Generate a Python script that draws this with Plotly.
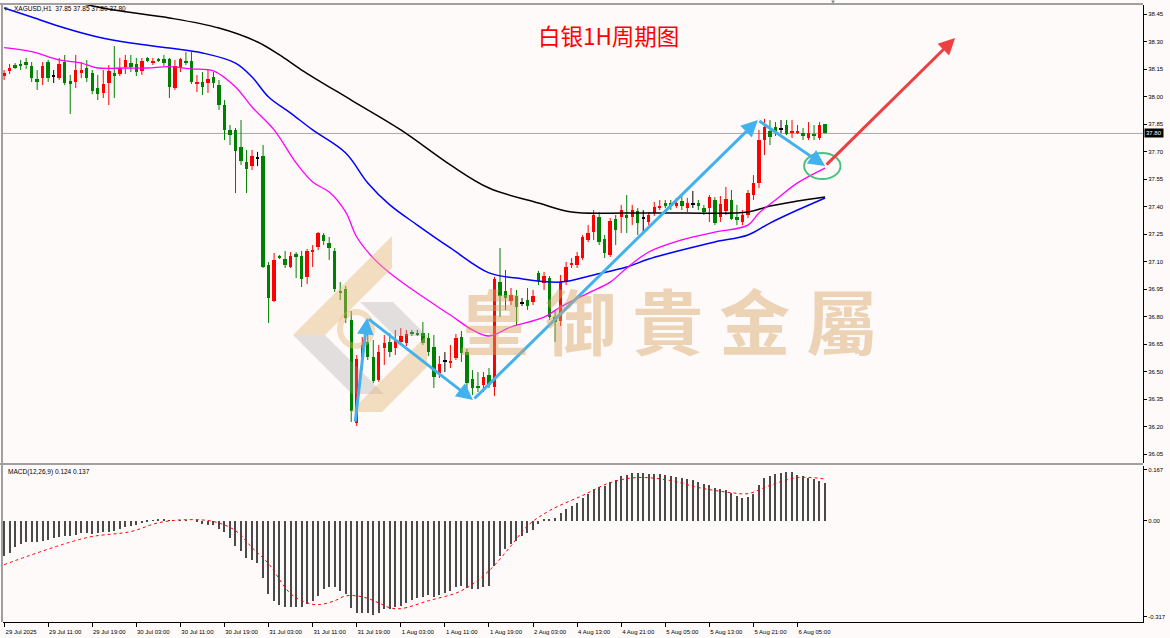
import plotly.graph_objects as go

# ---------------- data ----------------
bars = list(range(150))

opens = [38.113, 38.141, 38.173, 38.179, 38.190, 38.168, 38.097, 38.102, 38.190, 38.113,
         38.102, 38.190, 38.086, 38.081, 38.130, 38.157, 38.130, 38.048, 38.021, 38.075,
         38.130, 38.124, 38.162, 38.184, 38.179, 38.141, 38.212, 38.184, 38.206, 38.206,
         38.206, 38.048, 38.157, 38.195, 38.195, 38.075, 38.081, 38.075, 38.108, 38.064,
         37.955, 37.819, 37.819, 37.726, 37.644, 37.622, 37.666, 37.677, 37.082, 36.886,
         37.128, 37.115, 37.071, 37.142, 37.131, 37.017, 37.153, 37.180, 37.246, 37.202,
         37.159, 36.940, 36.951, 36.782, 36.220, 36.569, 36.662, 36.580, 36.455, 36.629,
         36.662, 36.629, 36.662, 36.657, 36.717, 36.711, 36.711, 36.684, 36.635, 36.493,
         36.558, 36.547, 36.575, 36.689, 36.607, 36.460, 36.422, 36.427, 36.482, 36.417,
         36.989, 36.940, 36.886, 36.913, 36.875, 36.891, 36.880, 37.039, 36.984, 37.011,
         36.798, 36.777, 36.989, 37.082, 37.082, 37.120, 37.219, 37.262, 37.344, 37.224,
         37.137, 37.333, 37.344, 37.355, 37.344, 37.377, 37.339, 37.317, 37.366, 37.393,
         37.420, 37.420, 37.404, 37.431, 37.393, 37.415, 37.420, 37.393, 37.393, 37.437,
         37.344, 37.377, 37.437, 37.344, 37.317, 37.355, 37.464, 37.530, 37.764, 37.813,
         37.835, 37.824, 37.846, 37.802, 37.808, 37.802, 37.775, 37.797, 37.775, 37.850]

highs = [38.146, 38.179, 38.184, 38.201, 38.212, 38.190, 38.146, 38.190, 38.201, 38.146,
         38.212, 38.228, 38.119, 38.228, 38.190, 38.201, 38.146, 38.119, 38.146, 38.173,
         38.277, 38.212, 38.228, 38.228, 38.212, 38.212, 38.217, 38.212, 38.212, 38.228,
         38.212, 38.201, 38.212, 38.244, 38.244, 38.119, 38.135, 38.146, 38.135, 38.092,
         37.982, 37.846, 37.830, 37.873, 37.710, 37.710, 37.699, 37.737, 37.099, 37.148,
         37.137, 37.159, 37.153, 37.153, 37.159, 37.170, 37.191, 37.262, 37.257, 37.235,
         37.175, 36.989, 36.968, 36.831, 36.591, 36.689, 36.771, 36.673, 36.646, 36.700,
         36.711, 36.728, 36.738, 36.728, 36.728, 36.728, 36.771, 36.711, 36.700, 36.586,
         36.607, 36.646, 36.706, 36.722, 36.624, 36.509, 36.498, 36.498, 36.520, 37.017,
         37.175, 37.055, 36.957, 36.946, 36.902, 36.957, 36.946, 37.050, 37.044, 37.022,
         36.837, 37.028, 37.099, 37.120, 37.153, 37.246, 37.300, 37.382, 37.371, 37.246,
         37.339, 37.355, 37.410, 37.464, 37.410, 37.393, 37.382, 37.371, 37.426, 37.437,
         37.437, 37.437, 37.448, 37.459, 37.448, 37.486, 37.437, 37.410, 37.464, 37.453,
         37.459, 37.508, 37.491, 37.410, 37.382, 37.491, 37.573, 37.819, 37.879, 37.873,
         37.862, 37.873, 37.873, 37.873, 37.846, 37.830, 37.862, 37.846, 37.862, 37.850]

lows = [38.092, 38.124, 38.152, 38.146, 38.152, 38.081, 38.037, 38.064, 38.081, 38.075,
        38.092, 38.064, 37.906, 38.048, 38.102, 38.081, 38.015, 37.982, 37.993, 37.955,
        37.993, 38.113, 38.124, 38.135, 38.113, 38.119, 38.190, 38.173, 38.190, 38.168,
        37.993, 38.037, 38.135, 38.173, 38.070, 38.026, 38.010, 38.021, 38.048, 37.928,
        37.764, 37.737, 37.475, 37.628, 37.475, 37.601, 37.622, 37.066, 36.766, 36.880,
        37.115, 37.066, 37.066, 37.011, 36.962, 36.979, 37.071, 37.164, 37.191, 37.110,
        36.935, 36.891, 36.766, 36.226, 36.204, 36.509, 36.564, 36.438, 36.444, 36.537,
        36.580, 36.591, 36.646, 36.640, 36.695, 36.695, 36.646, 36.586, 36.411, 36.466,
        36.498, 36.520, 36.564, 36.553, 36.400, 36.373, 36.389, 36.389, 36.411, 36.368,
        36.798, 36.837, 36.864, 36.755, 36.858, 36.837, 36.864, 36.973, 36.946, 36.782,
        36.662, 36.749, 36.973, 37.066, 37.066, 37.110, 37.208, 37.219, 37.191, 37.120,
        37.126, 37.191, 37.257, 37.257, 37.300, 37.246, 37.262, 37.300, 37.350, 37.382,
        37.393, 37.382, 37.393, 37.382, 37.371, 37.393, 37.382, 37.355, 37.317, 37.300,
        37.317, 37.355, 37.328, 37.300, 37.300, 37.339, 37.437, 37.502, 37.682, 37.737,
        37.786, 37.802, 37.791, 37.775, 37.797, 37.764, 37.764, 37.764, 37.764, 37.800]

closes = [38.130, 38.157, 38.157, 38.168, 38.173, 38.102, 38.081, 38.168, 38.102, 38.113,
          38.179, 38.075, 38.070, 38.146, 38.146, 38.102, 38.031, 38.015, 38.070, 38.141,
          38.113, 38.157, 38.201, 38.162, 38.135, 38.195, 38.195, 38.195, 38.195, 38.184,
          38.053, 38.168, 38.206, 38.184, 38.081, 38.081, 38.053, 38.097, 38.075, 37.955,
          37.819, 37.791, 37.704, 37.650, 37.606, 37.677, 37.666, 37.071, 36.902, 37.110,
          37.124, 37.082, 37.131, 37.126, 37.006, 37.159, 37.164, 37.257, 37.213, 37.175,
          36.951, 36.929, 36.793, 36.286, 36.569, 36.646, 36.580, 36.449, 36.607, 36.657,
          36.607, 36.673, 36.695, 36.706, 36.706, 36.706, 36.657, 36.607, 36.471, 36.542,
          36.558, 36.558, 36.684, 36.602, 36.438, 36.411, 36.411, 36.471, 36.427, 37.006,
          36.913, 36.902, 36.918, 36.853, 36.875, 36.858, 36.913, 36.995, 37.022, 36.798,
          36.771, 36.989, 37.071, 37.093, 37.131, 37.235, 37.257, 37.355, 37.208, 37.148,
          37.322, 37.273, 37.382, 37.339, 37.382, 37.311, 37.339, 37.355, 37.399, 37.404,
          37.404, 37.404, 37.420, 37.404, 37.420, 37.415, 37.404, 37.371, 37.453, 37.311,
          37.415, 37.442, 37.333, 37.328, 37.355, 37.475, 37.530, 37.764, 37.835, 37.781,
          37.808, 37.824, 37.797, 37.813, 37.813, 37.786, 37.802, 37.786, 37.846, 37.800]

# moving averages
ma_fast_bar = [0, 5, 10, 14, 17, 22, 26, 30, 34, 38, 42, 45, 49, 53, 56, 59, 62, 64, 67, 70,
               75, 81, 85, 88, 92, 98, 101, 106, 110, 113, 117, 123, 129, 135, 137, 140, 144, 149]
ma_fast_val = [38.268, 38.246, 38.201, 38.184, 38.157, 38.157, 38.157, 38.164, 38.152, 38.141,
               38.053, 37.944, 37.819, 37.639, 37.535, 37.480, 37.371, 37.235, 37.120, 37.039,
               36.929, 36.809, 36.728, 36.695, 36.744, 36.798, 36.853, 36.929, 36.989, 37.066,
               37.153, 37.219, 37.262, 37.300, 37.366, 37.437, 37.530, 37.611]

ma_mid_bar = [0, 5, 11, 17, 23, 30, 36, 42, 45, 48, 52, 56, 62, 66, 70, 75, 81, 88, 93, 101,
              107, 113, 117, 123, 129, 135, 139, 144, 149]
ma_mid_val = [38.484, 38.435, 38.375, 38.326, 38.293, 38.266, 38.239, 38.184, 38.108, 37.999,
              37.911, 37.819, 37.693, 37.530, 37.410, 37.300, 37.175, 37.039, 37.011, 36.989,
              37.028, 37.071, 37.115, 37.164, 37.208, 37.246, 37.311, 37.382, 37.448]

ma_slow_bar = [11, 20, 30, 39, 46, 50, 54, 63, 72, 81, 88, 97, 103, 113, 123, 135, 139, 144, 149]
ma_slow_val = [38.528, 38.473, 38.430, 38.375, 38.299, 38.228, 38.146, 37.982, 37.819, 37.628,
               37.502, 37.420, 37.371, 37.366, 37.366, 37.371, 37.404, 37.431, 37.453]

# MACD(12,26,9)
macd_hist = [-0.116, -0.105, -0.086, -0.076, -0.072, -0.072, -0.072, -0.066, -0.063, -0.056,
             -0.053, -0.050, -0.050, -0.046, -0.042, -0.042, -0.044, -0.042, -0.039, -0.036,
             -0.033, -0.027, -0.022, -0.017, -0.013, -0.009, -0.002, -0.001, 0.003, 0.006,
             0.001, 0.000, 0.002, 0.002, 0.000, -0.006, -0.011, -0.013, -0.013, -0.026,
             -0.039, -0.056, -0.083, -0.099, -0.122, -0.129, -0.138, -0.188, -0.243, -0.264,
             -0.277, -0.286, -0.286, -0.286, -0.286, -0.275, -0.264, -0.248, -0.226, -0.218,
             -0.220, -0.231, -0.242, -0.288, -0.303, -0.303, -0.303, -0.310, -0.303, -0.292,
             -0.292, -0.284, -0.280, -0.272, -0.262, -0.255, -0.250, -0.246, -0.250, -0.244,
             -0.238, -0.232, -0.220, -0.214, -0.222, -0.226, -0.226, -0.218, -0.214, -0.150,
             -0.118, -0.095, -0.078, -0.066, -0.052, -0.042, -0.030, -0.010, 0.004, 0.006,
             0.010, 0.025, 0.038, 0.048, 0.058, 0.074, 0.088, 0.104, 0.110, 0.114,
             0.128, 0.134, 0.146, 0.150, 0.156, 0.156, 0.156, 0.154, 0.155, 0.154,
             0.150, 0.146, 0.143, 0.140, 0.137, 0.133, 0.128, 0.120, 0.118, 0.108,
             0.104, 0.100, 0.090, 0.080, 0.074, 0.078, 0.088, 0.118, 0.140, 0.148,
             0.154, 0.158, 0.160, 0.160, 0.152, 0.148, 0.142, 0.136, 0.132, 0.124]

signal_bar = [0, 15, 23, 28, 33, 38, 42, 45, 48, 52, 55, 57, 60, 62, 65, 68, 70, 72, 77, 83,
              88, 92, 95, 99, 105, 110, 115, 121, 126, 132, 135, 139, 144, 149]
signal_val = [-0.145, -0.056, -0.036, -0.007, 0.003, -0.003, -0.033, -0.089, -0.142, -0.241,
              -0.271, -0.277, -0.264, -0.248, -0.251, -0.271, -0.287, -0.290, -0.264, -0.231,
              -0.165, -0.083, -0.017, 0.033, 0.083, 0.125, 0.142, 0.132, 0.109, 0.092,
              0.089, 0.116, 0.142, 0.137]

# time axis labels
tick_bars = list(range(0, 145, 8))
tick_labels = ["29 Jul 2025", "29 Jul 11:00", "29 Jul 19:00", "30 Jul 03:00", "30 Jul 11:00",
               "30 Jul 19:00", "31 Jul 03:00", "31 Jul 11:00", "31 Jul 19:00", "1 Aug 03:00",
               "1 Aug 11:00", "1 Aug 19:00", "2 Aug 03:00", "4 Aug 13:00", "4 Aug 21:00",
               "5 Aug 05:00", "5 Aug 13:00", "5 Aug 21:00", "6 Aug 05:00"]
price_ticks = [38.45, 38.30, 38.15, 38.00, 37.85, 37.70, 37.55, 37.40, 37.25, 37.10,
               36.95, 36.80, 36.65, 36.50, 36.35, 36.20, 36.05]
price_tick_labels = ["38.45", "38.30", "38.15", "38.00", "37.85", "37.70", "37.55", "37.40",
                     "37.25", "37.10", "36.95", "36.80", "36.65", "36.50", "36.35", "36.20", "36.05"]
macd_ticks = [0.167, 0.0, -0.317]
macd_tick_labels = ["0.167", "0.00", "-0.317"]
last_price = 37.80

# hand-drawn analysis path (bar, price)
path_bar = [63.7, 65.9, 85.1, 136.8, 149.0]
path_price = [36.220, 36.793, 36.346, 37.873, 37.622]
target_bar, target_price = 172.6, 38.321

# ---------------- figure ----------------
UP, DOWN, FLAT = "#ff0000", "#008000", "#000000"
FONT = "Liberation Sans, Arial, sans-serif"

fig = go.Figure()

groups = {UP: [], DOWN: [], FLAT: []}
for i in bars:
    if closes[i] > opens[i]:
        groups[UP].append(i)
    elif closes[i] < opens[i]:
        groups[DOWN].append(i)
    else:
        groups[FLAT].append(i)

for col, idx in groups.items():
    wx, wy = [], []
    for i in idx:
        wx += [i, i, None]
        wy += [lows[i], highs[i], None]
    fig.add_trace(go.Scatter(x=wx, y=wy, mode="lines", line=dict(color=col, width=1),
                             hoverinfo="skip", xaxis="x", yaxis="y"))
    base = [min(opens[i], closes[i]) for i in idx]
    hgt = [max(abs(closes[i] - opens[i]), 0.006) for i in idx]
    base = [b - (0.003 if abs(closes[i] - opens[i]) < 0.006 else 0) for b, i in zip(base, idx)]
    fig.add_trace(go.Bar(x=idx, y=hgt, base=base, width=0.62,
                         marker=dict(color=col, line=dict(width=0)),
                         xaxis="x", yaxis="y"))

fig.add_trace(go.Scatter(x=ma_slow_bar, y=ma_slow_val, mode="lines",
                         line=dict(color="#000000", width=1.5, shape="spline"), xaxis="x", yaxis="y"))
fig.add_trace(go.Scatter(x=ma_mid_bar, y=ma_mid_val, mode="lines",
                         line=dict(color="#0000ff", width=1.5, shape="spline"), xaxis="x", yaxis="y"))
fig.add_trace(go.Scatter(x=ma_fast_bar, y=ma_fast_val, mode="lines",
                         line=dict(color="#ff00ff", width=1.3, shape="spline"), xaxis="x", yaxis="y"))

fig.add_trace(go.Bar(x=bars, y=macd_hist, width=0.22,
                     marker=dict(color="#4a4a4a", line=dict(width=0)), xaxis="x2", yaxis="y2"))
fig.add_trace(go.Scatter(x=signal_bar, y=signal_val, mode="lines",
                         line=dict(color="#ff0000", width=1, dash="dot", shape="spline"),
                         xaxis="x2", yaxis="y2"))

# plot area in pixels: x 3..1143, y 5..622
L, R, T, B = 3, 1143, 5, 622


def P(px, py):
    return (px - L) / (R - L), (B - py) / (B - T)


def poly(points):
    s = ""
    for k, (px, py) in enumerate(points):
        x, y = P(px, py)
        s += ("M" if k == 0 else "L") + f"{x:.5f},{y:.5f} "
    return s + "Z"


shapes = []
shapes.append(dict(type="line", xref="paper", yref="y", x0=0, x1=1, y0=last_price, y1=last_price,
                   line=dict(color="#a8a8a8", width=1), layer="below"))
# frame lines
for (x0, y0, x1, y1, w) in [(0, 4, 1143, 4, 2), (2, 4, 2, 622, 2), (0, 464, 1143, 464, 2)]:
    a, b = P(x0, y0)
    c, d = P(x1, y1)
    shapes.append(dict(type="line", xref="paper", yref="paper", x0=a, y0=b, x1=c, y1=d,
                       line=dict(color="#a0a0a0", width=w)))
# watermark logo
tan = "rgba(226,180,112,0.42)"
gray = "rgba(160,160,160,0.30)"
shapes.append(dict(type="path", xref="paper", yref="paper", layer="above", line=dict(width=0),
                   fillcolor=tan, path=poly([(293, 335), (392, 236), (392, 268), (325, 335)])))
shapes.append(dict(type="path", xref="paper", yref="paper", layer="above", line=dict(width=0),
                   fillcolor=gray, path=poly([(293, 335), (325, 335), (384, 394), (352, 394)])))
shapes.append(dict(type="path", xref="paper", yref="paper", layer="above", line=dict(width=0),
                   fillcolor=tan, path=poly([(350, 412), (427, 335), (427, 367), (382, 412)])))
shapes.append(dict(type="path", xref="paper", yref="paper", layer="above", line=dict(width=0),
                   fillcolor=gray, path=poly([(360, 302), (393, 302), (427, 336), (395, 336)])))
cx0, cy0 = P(340, 312)
cx1, cy1 = P(372, 346)
shapes.append(dict(type="circle", xref="paper", yref="paper", layer="above",
                   x0=cx0, y0=cy1, x1=cx1, y1=cy0, line=dict(color=tan, width=6)))
# green target circle
shapes.append(dict(type="circle", xref="x", yref="y", x0=145.2, x1=151.8,
                   y0=37.622 - 0.071, y1=37.622 + 0.071, line=dict(color="#4cc07e", width=2)))

annotations = []
# analysis arrows
for k in range(len(path_bar) - 1):
    annotations.append(dict(x=path_bar[k + 1], y=path_price[k + 1], ax=path_bar[k], ay=path_price[k],
                            xref="x", yref="y", axref="x", ayref="y", text="", showarrow=True,
                            arrowhead=2, arrowsize=1.1, arrowwidth=3, arrowcolor="#42b2ee"))
annotations.append(dict(x=target_bar, y=target_price, ax=path_bar[-1], ay=path_price[-1],
                        xref="x", yref="y", axref="x", ayref="y", text="", showarrow=True,
                        arrowhead=2, arrowsize=1.1, arrowwidth=3, arrowcolor="#ee4040"))

x_wm, y_wm = P(667, 318)
annotations.append(dict(xref="paper", yref="paper", x=x_wm, y=y_wm, text="皇 御 貴 金 屬",
                        showarrow=False, xanchor="center", yanchor="middle",
                        font=dict(family="Noto Sans CJK TC", size=71, color="rgba(214,164,98,0.45)",
                                  weight="bold")))
xt, yt = P(608, 35)
annotations.append(dict(xref="paper", yref="paper", x=xt, y=yt, text="白银1H周期图", showarrow=False,
                        xanchor="center", yanchor="middle",
                        font=dict(family="Noto Sans CJK SC", size=22.5, color="#ff0000")))
xh, yh = P(12, 8)
annotations.append(dict(xref="paper", yref="paper", x=xh, y=yh,
                        text="XAGUSD,H1  37.85 37.85 37.80 37.80", showarrow=False,
                        xanchor="left", yanchor="middle", font=dict(family=FONT, size=6.5, color="#000")))
xi, yi = P(6, 8)
annotations.append(dict(xref="paper", yref="paper", x=xi, y=yi, text="▾", showarrow=False,
                        xanchor="center", yanchor="middle", font=dict(family=FONT, size=7, color="#333")))
xm, ym = P(6, 472)
annotations.append(dict(xref="paper", yref="paper", x=xm, y=ym, text="MACD(12,26,9) 0.124 0.137",
                        showarrow=False, xanchor="left", yanchor="middle",
                        font=dict(family=FONT, size=6.5, color="#000")))
xs, ys = P(833, 2)
annotations.append(dict(xref="paper", yref="paper", x=xs, y=ys, text="▼", showarrow=False,
                        xanchor="center", yanchor="middle", font=dict(family=FONT, size=6, color="#8a8a8a")))
annotations.append(dict(xref="paper", yref="y", x=1.0, y=last_price, text="37.80", showarrow=False,
                        xanchor="left", yanchor="middle", xshift=1, bgcolor="#000000", borderpad=1,
                        font=dict(family=FONT, size=6, color="#ffffff")))

main_dom = [(B - 463) / (B - T), 1.0]
macd_dom = [0.0, (B - 466) / (B - T)]
tickfont = dict(family=FONT, size=6, color="#000")

fig.update_layout(
    template="none",
    width=1170, height=638,
    margin=dict(l=L, r=1170 - R, t=T, b=638 - B),
    paper_bgcolor="#fffafa", plot_bgcolor="#fffafa",
    showlegend=False, barmode="overlay", bargap=0,
    shapes=shapes, annotations=annotations,
    xaxis=dict(domain=[0, 1], range=[-0.2, 206.7], anchor="y", showticklabels=False,
               showgrid=False, zeroline=False, ticks="", showline=False, automargin=False),
    yaxis=dict(domain=main_dom, range=[36.002, 38.5007], side="right", anchor="x",
               tickvals=price_ticks, ticktext=price_tick_labels, ticks="outside", ticklen=3,
               tickcolor="#000", tickfont=tickfont, showline=True, linecolor="#000", linewidth=1,
               showgrid=False, zeroline=False, automargin=False),
    xaxis2=dict(domain=[0, 1], matches="x", anchor="y2", tickvals=tick_bars, ticktext=tick_labels,
                ticks="outside", ticklen=4, tickcolor="#000", tickfont=tickfont, ticklabelshift=17,
                showline=True, linecolor="#000", linewidth=1, showgrid=False, zeroline=False,
                automargin=False),
    yaxis2=dict(domain=macd_dom, range=[-0.334, 0.180], side="right", anchor="x2",
                tickvals=macd_ticks, ticktext=macd_tick_labels, ticks="outside", ticklen=3,
                tickcolor="#000", tickfont=tickfont, showline=True, linecolor="#000", linewidth=1,
                showgrid=False, zeroline=False, automargin=False),
)

fig.write_html("out.html")
